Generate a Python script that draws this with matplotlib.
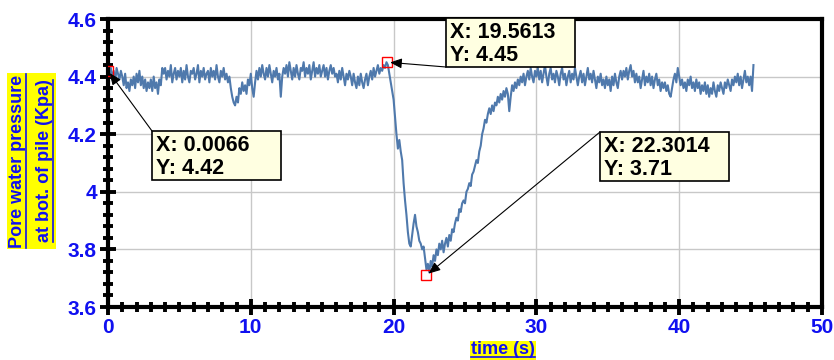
import numpy as np
import matplotlib
matplotlib.use("Agg")
import matplotlib.pyplot as plt
from matplotlib.ticker import MultipleLocator
from matplotlib.patches import Rectangle
from matplotlib.lines import Line2D

plt.rcParams["font.family"] = ["Liberation Sans", "DejaVu Sans"]

# sampling interval of the pressure record (s)
dt = 0.1

# pore water pressure at the pile bottom (kPa), one row per second
pressure = [
    4.42, 4.40, 4.43, 4.39, 4.42, 4.38, 4.43, 4.41, 4.39, 4.42,
    4.40, 4.37, 4.41, 4.36, 4.38, 4.35, 4.39, 4.37, 4.40, 4.36,
    4.41, 4.38, 4.42, 4.37, 4.40, 4.36, 4.39, 4.35, 4.38, 4.36,
    4.39, 4.35, 4.40, 4.36, 4.38, 4.34, 4.39, 4.37, 4.43, 4.41,
    4.43, 4.39, 4.42, 4.40, 4.44, 4.38, 4.41, 4.43, 4.39, 4.42,
    4.40, 4.43, 4.38, 4.42, 4.39, 4.44, 4.40, 4.38, 4.42, 4.41,
    4.43, 4.39, 4.41, 4.44, 4.38, 4.42, 4.40, 4.43, 4.39, 4.41,
    4.42, 4.38, 4.43, 4.40, 4.42, 4.39, 4.44, 4.40, 4.38, 4.42,
    4.40, 4.43, 4.39, 4.41, 4.38, 4.40, 4.36, 4.33, 4.31, 4.30,
    4.33, 4.31, 4.36, 4.34, 4.38, 4.35, 4.37, 4.34, 4.39, 4.37,
    4.41, 4.36, 4.33, 4.38, 4.42, 4.39, 4.43, 4.40, 4.44, 4.41,
    4.39, 4.43, 4.40, 4.44, 4.41, 4.38, 4.42, 4.40, 4.43, 4.39,
    4.41, 4.33, 4.40, 4.43, 4.41, 4.44, 4.40, 4.45, 4.42, 4.39,
    4.43, 4.40, 4.44, 4.41, 4.39, 4.43, 4.42, 4.45, 4.40, 4.43,
    4.41, 4.44, 4.39, 4.42, 4.45, 4.40, 4.43, 4.41, 4.44, 4.40,
    4.42, 4.44, 4.40, 4.43, 4.39, 4.42, 4.44, 4.41, 4.43, 4.40,
    4.41, 4.38, 4.42, 4.39, 4.43, 4.40, 4.37, 4.41, 4.39, 4.42,
    4.40, 4.37, 4.41, 4.38, 4.36, 4.40, 4.37, 4.41, 4.38, 4.36,
    4.39, 4.41, 4.37, 4.40, 4.42, 4.39, 4.43, 4.40, 4.42, 4.44,
    4.41, 4.43, 4.42, 4.44, 4.43, 4.45, 4.44, 4.41, 4.38, 4.35,
    4.32, 4.26, 4.20, 4.15, 4.18, 4.14, 4.11, 4.03, 3.97, 3.92,
    3.86, 3.82, 3.81, 3.85, 3.89, 3.92, 3.88, 3.86, 3.83, 3.82,
    3.80, 3.81, 3.77, 3.73, 3.75, 3.72, 3.76, 3.74, 3.78, 3.76,
    3.80, 3.78, 3.82, 3.80, 3.83, 3.79, 3.82, 3.84, 3.81, 3.85,
    3.83, 3.87, 3.86, 3.89, 3.91, 3.90, 3.94, 3.93, 3.96, 3.97,
    3.96, 4.00, 4.01, 4.03, 4.02, 4.06, 4.07, 4.09, 4.11, 4.10,
    4.14, 4.16, 4.20, 4.22, 4.25, 4.24, 4.27, 4.29, 4.27, 4.30,
    4.28, 4.31, 4.30, 4.33, 4.31, 4.34, 4.32, 4.35, 4.33, 4.36,
    4.34, 4.28, 4.33, 4.37, 4.35, 4.38, 4.36, 4.39, 4.37, 4.40,
    4.38, 4.41, 4.37, 4.40, 4.42, 4.39, 4.43, 4.40, 4.38, 4.42,
    4.40, 4.43, 4.39, 4.42, 4.38, 4.41, 4.44, 4.40, 4.37, 4.41,
    4.43, 4.39, 4.41, 4.38, 4.42, 4.40, 4.37, 4.41, 4.43, 4.39,
    4.41, 4.37, 4.40, 4.42, 4.38, 4.41, 4.39, 4.43, 4.40, 4.37,
    4.40, 4.42, 4.38, 4.41, 4.37, 4.40, 4.43, 4.39, 4.41, 4.38,
    4.42, 4.39, 4.36, 4.40, 4.38, 4.41, 4.37, 4.39, 4.36, 4.40,
    4.37, 4.39, 4.35, 4.40, 4.37, 4.41, 4.38, 4.36, 4.40, 4.42,
    4.39, 4.42, 4.40, 4.43, 4.39, 4.42, 4.44, 4.40, 4.42, 4.38,
    4.41, 4.38, 4.40, 4.36, 4.39, 4.42, 4.37, 4.40, 4.38, 4.41,
    4.37, 4.40, 4.36, 4.39, 4.41, 4.37, 4.39, 4.35, 4.38, 4.36,
    4.38, 4.35, 4.37, 4.34, 4.33, 4.36, 4.39, 4.41, 4.38, 4.43,
    4.40, 4.37, 4.39, 4.36, 4.38, 4.35, 4.39, 4.37, 4.40, 4.36,
    4.38, 4.35, 4.39, 4.36, 4.38, 4.34, 4.37, 4.35, 4.38, 4.34,
    4.37, 4.33, 4.36, 4.34, 4.38, 4.35, 4.33, 4.37, 4.35, 4.38,
    4.36, 4.34, 4.38, 4.36, 4.39, 4.37, 4.35, 4.39, 4.37, 4.40,
    4.38, 4.41, 4.37, 4.40, 4.36, 4.39, 4.42, 4.38, 4.40, 4.37,
    4.40, 4.35, 4.44,
]

x_ticks = [0, 10, 20, 30, 40, 50]
y_ticks = [3.6, 3.8, 4.0, 4.2, 4.4, 4.6]
y_ticklabels = ["3.6", "3.8", "4", "4.2", "4.4", "4.6"]

x_label = "time (s)"
y_label = ["Pore water pressure", "at bot. of pile (Kpa)"]

# data tips
tip_x = [0.0066, 19.5613, 22.3014]
tip_y = [4.42, 4.45, 3.71]
# tip boxes in figure pixels from the top: left, top, width, height
tip_box = [(152, 131, 129, 49), (446, 18, 129, 49), (600, 132, 129, 49)]
tip_anchor = [(0, 0), (0, 1), (0, 0)]   # arrow start corner (0 = left/top, 1 = right/bottom)

BLUE = "#1010F0"
LINE = "#4F79AC"

W, H = 834, 360
fig = plt.figure(figsize=(W / 100, H / 100), dpi=100)
ax = fig.add_axes([108 / W, 1 - 307 / H, 714 / W, 288 / H])

t = np.arange(len(pressure)) * dt
ax.plot(t, pressure, color=LINE, lw=1.5, zorder=2)

ax.set_xlim(0, 50)
ax.set_ylim(3.6, 4.6)
ax.xaxis.set_minor_locator(MultipleLocator(1))
ax.yaxis.set_minor_locator(MultipleLocator(0.04))
ax.set_xticks(x_ticks)
ax.set_xticklabels([str(v) for v in x_ticks])
ax.set_yticks(y_ticks)
ax.set_yticklabels(y_ticklabels)

ax.grid(True, which="major", color="#c8c8c8", lw=1.0, zorder=0)
for s in ax.spines.values():
    s.set_linewidth(3.0)
ax.tick_params(which="major", direction="inout", length=12, width=2.8,
               labelsize=15, labelcolor=BLUE, pad=2)
ax.tick_params(which="minor", direction="inout", length=7, width=2.8)
for lab in ax.get_xticklabels() + ax.get_yticklabels():
    lab.set_fontweight("bold")


def px(x, y):
    return x / W, 1 - y / H


# axis titles: blue, bold, underlined on a yellow patch
xl = fig.text(*px(503, 349), x_label, ha="center", va="center",
              fontsize=13, fontweight="bold", color=BLUE, zorder=3)
yl = [fig.text(*px(cx, 161), s, ha="center", va="center", rotation=90,
               fontsize=13, fontweight="bold", color=BLUE, zorder=3)
      for cx, s in zip([18, 45], y_label)]

renderer = fig.canvas.get_renderer()
bx = xl.get_window_extent(renderer)
fig.patches.append(Rectangle((bx.x0 - 1, bx.y0 - 2), bx.width + 2, bx.height + 2,
                             transform=None, fc="yellow", ec="none", zorder=1))
fig.lines.append(Line2D([bx.x0, bx.x1], [bx.y0 + 1, bx.y0 + 1], transform=None,
                        color=BLUE, lw=1.2, zorder=4))
by = [t_.get_window_extent(renderer) for t_ in yl]
x0 = min(b.x0 for b in by)
x1 = max(b.x1 for b in by)
y0 = min(b.y0 for b in by)
y1 = max(b.y1 for b in by)
fig.patches.append(Rectangle((x0 - 2, y0 - 1), x1 - x0 + 4, y1 - y0 + 2,
                             transform=None, fc="yellow", ec="none", zorder=1))
for b in by:
    fig.lines.append(Line2D([b.x1 - 1, b.x1 - 1], [b.y0, b.y1], transform=None,
                            color=BLUE, lw=1.2, zorder=4))

# data tip markers, boxes and arrows
ax.plot(tip_x, tip_y, "s", mfc="none", mec="red", ms=7, mew=1.0, zorder=4)
for x, y, (l, top, w, h), (ax_, ay_) in zip(tip_x, tip_y, tip_box, tip_anchor):
    fig.patches.append(Rectangle((l, H - top - h), w, h, transform=None,
                                 fc="#ffffe1", ec="black", lw=1.2, zorder=5))
    fig.text(*px(l + 4, top + 4), f"X: {x:g}\nY: {y:g}", ha="left", va="top",
             fontsize=15.5, fontweight="bold", linespacing=1.1, zorder=6)
    ax.annotate("", xy=(x, y), xytext=px(l + ax_ * w, top + ay_ * h),
                textcoords="figure fraction",
                arrowprops=dict(arrowstyle="-|>,head_length=0.7,head_width=0.3",
                                color="black", lw=0.8, shrinkA=0, shrinkB=2),
                zorder=5)

fig.savefig("out.png", dpi=100)
